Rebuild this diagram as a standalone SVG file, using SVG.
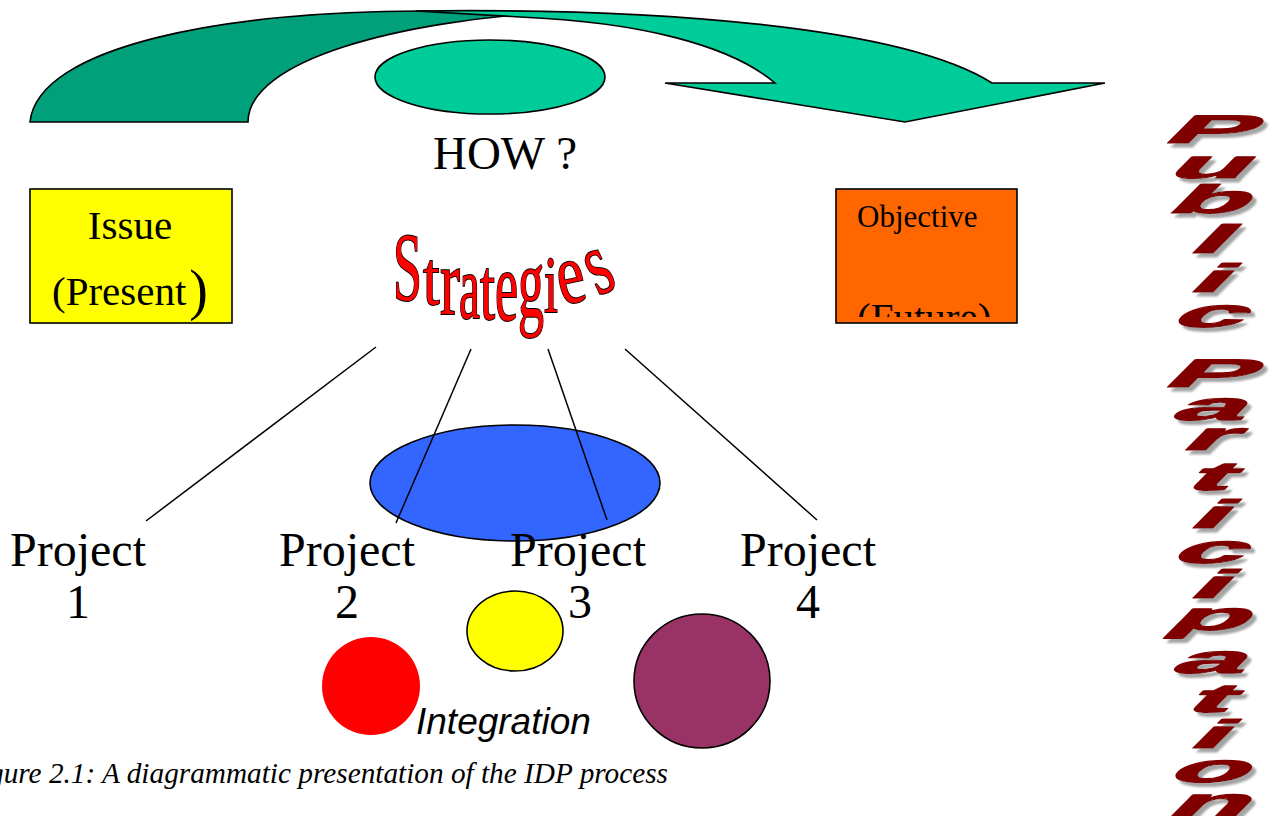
<svg xmlns="http://www.w3.org/2000/svg" width="1278" height="816" viewBox="0 0 1278 816">
<style>
.serif{font-family:"Liberation Serif","Times New Roman",serif;fill:#000}
.proj{font-family:"Liberation Serif","Times New Roman",serif;font-size:48px;text-anchor:middle;fill:#000}
.st{font-family:"Liberation Serif","Times New Roman",serif;font-size:100px;fill:#ff0000;stroke:#000;stroke-width:1.6;vector-effect:non-scaling-stroke;paint-order:stroke}
.pp{font-family:"Liberation Sans",Arial,sans-serif;font-weight:bold;font-size:40px;fill:#800000;stroke:#800000;stroke-width:3;vector-effect:non-scaling-stroke;stroke-linejoin:round;text-anchor:middle}
.ln{stroke:#000;stroke-width:1.5;fill:none}
.ol{stroke:#000;stroke-width:1.6}
</style>
<defs>
<filter id="sh" x="-10%" y="-5%" width="130%" height="115%">
<feDropShadow dx="4" dy="4" stdDeviation="1" flood-color="#9a9a9a" flood-opacity="0.9"/>
</filter>
<clipPath id="objclip"><rect x="836" y="188" width="181" height="129"/></clipPath>
</defs>

<g id="top-arrow">
<path class="ol" fill="#00a07a" d="M30,122 C38,45 230,11 420,11 L560,12 C400,20 248,60 248,122 Z"/>
<path class="ol" fill="#00cc99" d="M416,11 C650,8 900,25 992,83 L1105,83 L905,122 L665,83 L775,83 C730,45 640,22 520,17 Z"/>
</g>

<g id="how">
<ellipse class="ol" cx="490" cy="77" rx="115" ry="37" fill="#00cc99"/>
<text class="serif" x="505" y="169" font-size="47" text-anchor="middle">HOW ?</text>
</g>

<g id="issue">
<rect class="ol" x="30" y="189" width="202" height="134" fill="#ffff00"/>
<text class="serif" x="130" y="239" font-size="41" text-anchor="middle">Issue</text>
<text class="serif" x="52" y="305" font-size="41">(Present<tspan font-size="56" dx="3" dy="4">)</tspan></text>
</g>

<g id="objective">
<rect class="ol" x="836" y="189" width="181" height="134" fill="#ff6600"/>
<text class="serif" x="857" y="227" font-size="31">Objective</text>
<text class="serif" x="857" y="331" font-size="41" clip-path="url(#objclip)">(Future)</text>
</g>

<g id="strategies">
<text class="st" transform="translate(393,300) scale(0.52,0.98)">S</text>
<text class="st" transform="translate(423,304) scale(0.6,0.76)">t</text>
<text class="st" transform="translate(440,314) scale(0.6,0.96)">r</text>
<text class="st" transform="translate(459,318) scale(0.47,0.91)">a</text>
<text class="st" transform="translate(480,319) scale(0.54,0.88)">t</text>
<text class="st" transform="translate(495,320) scale(0.52,1.0)">e</text>
<text class="st" transform="translate(518,317) scale(0.52,1.0)">g</text>
<text class="st" transform="translate(544,312) scale(0.5,0.8)">i</text>
<text class="st" transform="translate(562,305) rotate(-12) scale(0.62,0.87)">e</text>
<text class="st" transform="translate(598,296) rotate(-25) scale(0.6,0.91)">s</text>
</g>

<g id="center-ellipse">
<ellipse class="ol" cx="515" cy="483" rx="145" ry="58" fill="#3366ff"/>
</g>

<g id="connectors">
<line class="ln" x1="376" y1="347" x2="146" y2="521"/>
<line class="ln" x1="471" y1="349" x2="396" y2="523"/>
<line class="ln" x1="548" y1="349" x2="607" y2="520"/>
<line class="ln" x1="625" y1="349" x2="817" y2="520"/>
</g>

<g id="project1"><text class="proj" x="78" y="566">Project</text><text class="proj" x="78" y="618">1</text></g>
<g id="project2"><text class="proj" x="347" y="566">Project</text><text class="proj" x="347" y="618">2</text></g>
<g id="project3"><text class="proj" x="578" y="566">Project</text><text class="proj" x="580" y="618">3</text></g>
<g id="project4"><text class="proj" x="808" y="566">Project</text><text class="proj" x="808" y="618">4</text></g>

<g id="integration">
<circle cx="371" cy="686" r="49" fill="#ff0000"/>
<ellipse class="ol" cx="515" cy="631" rx="48" ry="40" fill="#ffff00"/>
<ellipse class="ol" cx="702" cy="681" rx="68" ry="67" fill="#993366"/>
<text x="416" y="734" font-family="Liberation Sans, Arial, sans-serif" font-style="italic" font-size="37" fill="#000">Integration</text>
</g>

<g id="caption">
<text class="serif" x="-37" y="783" font-size="30" font-style="italic" textLength="705" lengthAdjust="spacingAndGlyphs">Figure 2.1: A diagrammatic presentation of the IDP process</text>
</g>

<g id="public-participation" filter="url(#sh)">
<text class="pp" transform="translate(1203,143) skewX(-45) scale(3.2,1)">P</text>
<text class="pp" transform="translate(1203,178) skewX(-45) scale(3.2,1)">u</text>
<text class="pp" transform="translate(1203,213) skewX(-45) scale(3.2,1)">b</text>
<text class="pp" transform="translate(1203,253) skewX(-45) scale(3.2,1)">l</text>
<text class="pp" transform="translate(1203,292) skewX(-45) scale(3.2,1)">i</text>
<text class="pp" transform="translate(1203,327) skewX(-45) scale(3.2,1)">c</text>
<text class="pp" transform="translate(1203,387) skewX(-45) scale(3.2,1)">P</text>
<text class="pp" transform="translate(1203,420) skewX(-45) scale(3.2,1)">a</text>
<text class="pp" transform="translate(1203,450) skewX(-45) scale(3.2,1)">r</text>
<text class="pp" transform="translate(1203,490) skewX(-45) scale(3.2,1)">t</text>
<text class="pp" transform="translate(1203,528) skewX(-45) scale(3.2,1)">i</text>
<text class="pp" transform="translate(1203,563) skewX(-45) scale(3.2,1)">c</text>
<text class="pp" transform="translate(1203,598) skewX(-45) scale(3.2,1)">i</text>
<text class="pp" transform="translate(1203,630) skewX(-45) scale(3.2,1)">p</text>
<text class="pp" transform="translate(1203,673) skewX(-45) scale(3.2,1)">a</text>
<text class="pp" transform="translate(1203,712) skewX(-45) scale(3.2,1)">t</text>
<text class="pp" transform="translate(1203,748) skewX(-45) scale(3.2,1)">i</text>
<text class="pp" transform="translate(1203,782) skewX(-45) scale(3.2,1)">o</text>
<text class="pp" transform="translate(1203,816) skewX(-45) scale(3.2,1)">n</text>
</g>
</svg>
